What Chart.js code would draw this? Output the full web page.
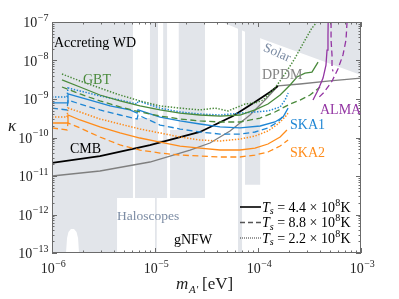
<!DOCTYPE html>
<html>
<head>
<meta charset="utf-8">
<script src="https://cdn.jsdelivr.net/npm/chart.js@4.4.1/dist/chart.umd.min.js"></script>
<style>
  html, body { margin: 0; padding: 0; background: #fff; }
  canvas { display: block; }
</style>
</head>
<body>
<canvas id="chart" width="399" height="299"></canvas>
<script>
// ================= AXES =================
const xTicks = [1e-6, 1e-5, 1e-4, 1e-3];
const yTicks = [1e-13, 1e-12, 1e-11, 1e-10, 1e-9, 1e-8, 1e-7];

// ================= EXCLUDED REGIONS (m [eV], kappa) =================
const haloMain = [[1e-6,1e-7],[3.06e-5,1e-7],[3.06e-5,2.7e-12],[4.28e-6,2.7e-12],[4.28e-6,1e-13],
  [1.83e-6,1e-13],[1.79e-6,2.45e-13],[1.73e-6,3.5e-13],[1.636e-6,4.2e-13],[1.528e-6,4.2e-13],
  [1.445e-6,3.5e-13],[1.40e-6,2.45e-13],[1.368e-6,1e-13],[1e-6,1e-13],[1e-6,1e-7]];
const haloLine = [[6.4e-5,1e-7],[7.0e-5,1e-7],[7.0e-5,1e-13],[6.4e-5,1e-13],[6.4e-5,1e-7]];
const haloBand = [[7.48e-5,1e-7],[1.05e-4,1e-7],[1.05e-4,5.9e-12],[7.48e-5,5.9e-12],[7.48e-5,1e-7]];
const haloThin = [[1.0e-5,2.7e-12],[1.04e-5,2.7e-12],[1.04e-5,1e-13],[1.0e-5,1e-13],[1.0e-5,2.7e-12]];
const solar = [[4.47e-5,1e-7],[1e-3,1e-7],[1e-3,4.2e-9],[1.1e-4,3.6e-8],[4.47e-5,1e-7]];

// gaps inside the haloscope block
const gapA = [[6.4e-6,1e-7],[8.93e-6,1e-7],[8.93e-6,3.2e-10],[6.4e-6,3.2e-10],[6.4e-6,1e-7]];
const gapB = [[6.11e-6,1e-7],[6.4e-6,1e-7],[6.4e-6,2.7e-12],[6.11e-6,2.7e-12],[6.11e-6,1e-7]];
const gapC = [[1.07e-5,1e-7],[1.2e-5,1e-7],[1.2e-5,8.6e-11],[1.07e-5,8.6e-11],[1.07e-5,1e-7]];
const gapD = [[1.31e-5,1e-7],[1.7e-5,1e-7],[1.7e-5,1.57e-10],[1.31e-5,1.57e-10],[1.31e-5,1e-7]];
const gapE = [[1.31e-5,1.6e-10],[1.40e-5,1.6e-10],[1.40e-5,2.7e-12],[1.31e-5,2.7e-12],[1.31e-5,1.6e-10]];

// ================= BOUNDS =================
const cmb = [[1e-6,2.18e-11],[2.92e-6,3.3e-11],[8.93e-6,6.38e-11],[2.73e-5,1.39e-10],[5.72e-5,3.61e-10],
  [9.35e-5,8.4e-10],[1.31e-4,1.52e-9],[1.56e-4,2.18e-9]];
const dpdm = [[1e-6,1e-11],[2.92e-6,1.35e-11],[8.93e-6,2.31e-11],[2.19e-5,4.73e-11],[3.42e-5,7.19e-11],
  [5.35e-5,1.48e-10],[8.36e-5,3.84e-10],[1.17e-4,9.4e-10],[1.56e-4,2.18e-9],[2.56e-4,2.45e-9],
  [5.0e-4,2.94e-9],[1e-3,3.5e-9]];

// ================= GBT =================
const gbtSolid = [[1.25e-6,3.12e-9],[1.87e-6,2.05e-9],[2.92e-6,1.27e-9],[4.57e-6,8.9e-10],[7.15e-6,6.6e-10],
  [1.12e-5,5.2e-10],[1.75e-5,4.3e-10],[2.73e-5,3.84e-10],[4.28e-5,3.61e-10],[6.68e-5,3.84e-10],
  [9.35e-5,5.2e-10],[1.25e-4,7.4e-10],[1.64e-4,1.27e-9],[2.05e-4,2.31e-9],[2.39e-4,3.72e-9],
  [2.86e-4,4.7e-9],[3.34e-4,5.0e-9],[3.83e-4,9.1e-9]];
const gbtDashed = [[1.25e-6,2.05e-9],[1.87e-6,1.35e-9],[2.92e-6,8.9e-10],[4.57e-6,6.2e-10],[7.15e-6,4.6e-10],
  [1.12e-5,3.61e-10],[1.75e-5,3.03e-10],[2.73e-5,2.69e-10],[4.28e-5,2.53e-10],[6.68e-5,2.53e-10],
  [1.05e-4,3.2e-10],[1.46e-4,4.6e-10],[2.05e-4,7.4e-10],[2.56e-4,9.4e-10],[3.20e-4,1.27e-9],[4.0e-4,2.05e-9]];
const gbtDotted = [[1.25e-6,4.46e-9],[1.87e-6,2.94e-9],[2.92e-6,1.93e-9],[4.57e-6,1.27e-9],[7.15e-6,8.9e-10],
  [1.12e-5,6.6e-10],[1.75e-5,5.8e-10],[2.73e-5,5.2e-10],[3.83e-5,5.8e-10],[5.12e-5,4.9e-10],
  [7.48e-5,7.4e-10],[9.35e-5,7.9e-10],[1.12e-4,9.4e-10],[1.46e-4,1.93e-9],[1.83e-4,4.46e-9],
  [2.29e-4,1.16e-8],[2.86e-4,3.4e-8],[3.34e-4,6.98e-8],[3.74e-4,1e-7]];

// ================= SKA1 =================
const ska1Solid = [[1e-6,7.9e-10],[1.40e-6,7.9e-10],[1.43e-6,1.35e-9],[1.67e-6,1.20e-9],[2.34e-6,9.4e-10],
  [3.66e-6,6.6e-10],[5.71e-6,5.2e-10],[6.7e-6,4.3e-10],[6.84e-6,5.2e-10],[1.12e-5,3.4e-10],
  [1.75e-5,2.69e-10],[2.73e-5,2.24e-10],[4.28e-5,1.88e-10],[6.68e-5,1.77e-10],[1.05e-4,1.99e-10],
  [1.46e-4,2.53e-10],[1.75e-4,3.4e-10],[1.96e-4,5.8e-10]];
const ska1Dashed = [[1e-6,5.8e-10],[1.40e-6,5.2e-10],[1.43e-6,9.4e-10],[1.87e-6,7.4e-10],[2.92e-6,5.2e-10],
  [4.57e-6,3.84e-10],[6.7e-6,3.03e-10],[6.84e-6,3.84e-10],[1.12e-5,2.11e-10],[1.75e-5,1.66e-10],
  [2.73e-5,1.39e-10],[4.28e-5,1.23e-10],[6.68e-5,1.23e-10],[9.35e-5,1.39e-10],[1.25e-4,1.77e-10],
  [1.56e-4,2.53e-10],[1.83e-4,4.07e-10]];
const ska1Dotted = [[1e-6,1.13e-9],[1.40e-6,1.13e-9],[1.43e-6,1.93e-9],[1.87e-6,1.62e-9],[2.92e-6,1.20e-9],
  [4.57e-6,9.4e-10],[6.7e-6,7.4e-10],[6.84e-6,8.9e-10],[1.12e-5,5.8e-10],[1.75e-5,4.6e-10],
  [2.73e-5,4.07e-10],[4.28e-5,3.84e-10],[6.68e-5,4.3e-10],[9.35e-5,4.6e-10],[1.25e-4,4.9e-10],
  [1.64e-4,6.2e-10],[1.83e-4,9.4e-10],[1.96e-4,1.43e-9]];

// ================= SKA2 =================
const ska2Solid = [[1e-6,2.38e-10],[1.40e-6,2.38e-10],[1.43e-6,3.84e-10],[1.87e-6,2.85e-10],[2.92e-6,1.88e-10],
  [4.57e-6,1.31e-10],[7.15e-6,9.7e-11],[1.12e-5,7.6e-11],[1.75e-5,6.0e-11],[2.73e-5,5.3e-11],
  [4.28e-5,4.73e-11],[6.68e-5,4.73e-11],[9.35e-5,5.3e-11],[1.25e-4,6.78e-11],[1.64e-4,1.03e-10],[1.91e-4,1.57e-10]];
const ska2Dashed = [[1e-6,1.77e-10],[1.40e-6,1.57e-10],[1.43e-6,2.38e-10],[1.87e-6,1.77e-10],[2.92e-6,1.03e-10],
  [4.57e-6,6.4e-11],[7.15e-6,4.73e-11],[1.12e-5,3.95e-11],[1.75e-5,3.5e-11],[2.73e-5,3.3e-11],
  [4.28e-5,3.12e-11],[6.68e-5,3.12e-11],[9.35e-5,3.5e-11],[1.25e-4,4.2e-11],[1.64e-4,6.0e-11],[1.96e-4,8.6e-11]];
const ska2Dotted = [[1e-6,3.4e-10],[1.40e-6,3.4e-10],[1.43e-6,5.8e-10],[1.87e-6,4.6e-10],[2.92e-6,3.03e-10],
  [4.57e-6,2.24e-10],[7.15e-6,1.66e-10],[1.12e-5,1.31e-10],[1.75e-5,1.03e-10],[2.73e-5,8.6e-11],
  [4.28e-5,8.1e-11],[6.68e-5,9.1e-11],[9.35e-5,1.09e-10],[1.25e-4,1.48e-10],[1.56e-4,2.24e-10],
  [1.83e-4,3.4e-10],[1.96e-4,4.3e-10]];

// ================= ALMA =================
const almaSolid = [[3.42e-4,9.4e-10],[3.83e-4,1.71e-9],[4.28e-4,3.5e-9],[4.57e-4,7.6e-9],[4.68e-4,1.87e-8],
  [4.78e-4,4.6e-8],[4.8e-4,1e-7]];
const almaDashedA = [[5.12e-4,1e-7],[5.12e-4,3.4e-8],[5.23e-4,1.39e-8],[5.23e-4,6.5e-9],[5.35e-4,5.2e-9]];
const almaDashedB = [[7.32e-4,1e-7],[7.15e-4,3.4e-8],[6.68e-4,1.39e-8],[5.97e-4,6.0e-9],[5.23e-4,2.9e-9],
  [4.38e-4,1.5e-9],[3.83e-4,1.05e-9]];

// ================= COLOURS =================
const GREY_FILL = '#e2e5ea';
const GREEN = '#4a8a3c';
const BLUE = '#1f86d4';
const ORANGE = '#ff8c1a';
const PURPLE = '#9335a3';
const SLATE = '#7b8ba3';
const DASH = [6, 3.5];
const DOT = [1.4, 1.6];

const pts = arr => arr.map(p => ({ x: p[0], y: p[1] }));

function region(data, color, order) {
    return { data: pts(data), fill: 'shape', backgroundColor: color, borderColor: 'rgba(0,0,0,0)',
             borderWidth: 0, pointRadius: 0, order: order };
}

function curve(data, color, dash, width, order) {
    return { data: pts(data), fill: false, borderColor: color, borderWidth: width,
             borderDash: dash, pointRadius: 0, tension: 0, order: order };
}

// ================= DECORATION PLUGIN =================
const SERIF = '"Liberation Serif", "DejaVu Serif", serif';

function powerLabel(ctx, exp, x, y, align) {
    const base = '10', sup = '\u2212' + exp;
    ctx.font = '14px ' + SERIF;
    const wb = ctx.measureText(base).width;
    ctx.font = '10px ' + SERIF;
    const ws = ctx.measureText(sup).width;
    let left = align === 'right' ? x - wb - ws : x - (wb + ws) / 2;
    ctx.textAlign = 'left';
    ctx.textBaseline = 'alphabetic';
    ctx.font = '14px ' + SERIF;
    ctx.fillText(base, left, y);
    ctx.font = '10px ' + SERIF;
    ctx.fillText(sup, left + wb + 0.5, y - 6.5);
}

function legendRow(ctx, x, y, value) {
    ctx.textBaseline = 'alphabetic';
    ctx.textAlign = 'left';
    ctx.font = 'italic 14px ' + SERIF;
    ctx.fillText('T', x, y);
    let cx = x + ctx.measureText('T').width;
    ctx.font = 'italic 10px ' + SERIF;
    ctx.fillText('s', cx, y + 2.5);
    cx += ctx.measureText('s').width;
    ctx.font = '14px ' + SERIF;
    const mid = ' = ' + value + ' \u00d7 10';
    ctx.fillText(mid, cx, y);
    cx += ctx.measureText(mid).width;
    ctx.font = '10px ' + SERIF;
    ctx.fillText('8', cx + 0.3, y - 6);
    cx += ctx.measureText('8').width + 0.6;
    ctx.font = '14px ' + SERIF;
    ctx.fillText('K', cx, y);
}

const decor = {
    id: 'decor',
    afterDatasetsDraw(chart) {
        const ctx = chart.ctx;
        const a = chart.chartArea;
        const xs = chart.scales.x, ys = chart.scales.y;
        ctx.save();

        // frame
        ctx.strokeStyle = '#6b6b6b';
        ctx.lineWidth = 1;
        ctx.strokeRect(a.left + 0.5, a.top + 0.5, a.right - a.left - 1, a.bottom - a.top - 1);

        // inward ticks on all sides
        ctx.beginPath();
        xTicks.forEach(d => {
            for (let k = 1; k <= 9; k++) {
                const v = d * k;
                if (v > 1e-3 * 1.0001) break;
                const px = Math.round(xs.getPixelForValue(v)) + 0.5;
                const len = k === 1 ? 5 : 2.5;
                ctx.moveTo(px, a.bottom); ctx.lineTo(px, a.bottom - len);
                ctx.moveTo(px, a.top); ctx.lineTo(px, a.top + len);
            }
        });
        yTicks.forEach(d => {
            for (let k = 1; k <= 9; k++) {
                const v = d * k;
                if (v > 1e-7 * 1.0001) break;
                const py = Math.round(ys.getPixelForValue(v)) + 0.5;
                const len = k === 1 ? 5 : 2.5;
                ctx.moveTo(a.left, py); ctx.lineTo(a.left + len, py);
                ctx.moveTo(a.right, py); ctx.lineTo(a.right - len, py);
            }
        });
        ctx.stroke();

        // tick labels
        ctx.fillStyle = '#222';
        xTicks.forEach(v => {
            powerLabel(ctx, Math.round(-Math.log10(v)), xs.getPixelForValue(v) + 1, a.bottom + 20, 'center');
        });
        yTicks.forEach(v => {
            powerLabel(ctx, Math.round(-Math.log10(v)), a.left - 4, ys.getPixelForValue(v) + 5, 'right');
        });

        // axis titles
        ctx.textAlign = 'center';
        ctx.textBaseline = 'middle';
        ctx.font = 'italic 17px ' + SERIF;
        ctx.fillText('\u03ba', 12, 127);

        ctx.textAlign = 'left';
        ctx.textBaseline = 'alphabetic';
        ctx.font = 'italic 17px ' + SERIF;
        ctx.fillText('m', 176, 289);
        ctx.font = 'italic 11px ' + SERIF;
        ctx.fillText('A\u2032', 189, 293);
        ctx.font = '17px ' + SERIF;
        ctx.fillText('[eV]', 202, 289);

        // region / curve labels
        ctx.textBaseline = 'middle';
        ctx.fillStyle = '#000';
        ctx.font = '14px ' + SERIF;
        ctx.fillText('Accreting WD', 54, 43);
        ctx.fillText('CMB', 70, 149);
        ctx.fillText('gNFW', 174, 240);
        ctx.fillStyle = GREEN;
        ctx.fillText('GBT', 83, 80);
        ctx.fillStyle = BLUE;
        ctx.fillText('SKA1', 290, 125);
        ctx.fillStyle = ORANGE;
        ctx.fillText('SKA2', 290, 153);
        ctx.fillStyle = PURPLE;
        ctx.fillText('ALMA', 320, 110);
        ctx.fillStyle = '#858585';
        ctx.fillText('DPDM', 262, 75);
        ctx.fillStyle = SLATE;
        ctx.font = '13.5px ' + SERIF;
        ctx.fillText('Haloscopes', 117, 216);
        ctx.save();
        ctx.translate(277, 53);
        ctx.rotate(24 * Math.PI / 180);
        ctx.textAlign = 'center';
        ctx.fillText('Solar', 0, 0);
        ctx.restore();

        // legend
        const rows = [['4.4', [], 1.6, '#000'], ['8.8', [5, 3], 1.6, '#555'], ['2.2', [1, 1], 1, '#333']];
        rows.forEach((r, i) => {
            const y = 207 + i * 15.5;
            ctx.beginPath();
            ctx.setLineDash(r[1]);
            ctx.lineWidth = r[2];
            ctx.strokeStyle = r[3];
            ctx.moveTo(240, y);
            ctx.lineTo(261, y);
            ctx.stroke();
            ctx.setLineDash([]);
            ctx.fillStyle = '#000';
            legendRow(ctx, 262, y + 4.5, r[0]);
        });
        ctx.restore();
    }
};

// ================= CHART =================
new Chart(document.getElementById('chart'), {
    type: 'line',
    data: {
        datasets: [
            region(haloMain, GREY_FILL, 100),
            region(haloLine, GREY_FILL, 100),
            region(haloBand, GREY_FILL, 100),
            region(haloThin, GREY_FILL, 100),
            region(solar, GREY_FILL, 100),
            region(gapA, '#ffffff', 90),
            region(gapB, '#ffffff', 90),
            region(gapC, '#ffffff', 90),
            region(gapD, '#ffffff', 90),
            region(gapE, '#ffffff', 90),
            curve(dpdm, '#7f7f7f', [], 1.3, 12),
            curve(cmb, '#000000', [], 1.8, 11),
            curve(ska2Dashed, ORANGE, DASH, 1.3, 10),
            curve(ska2Dotted, ORANGE, DOT, 1.5, 10),
            curve(ska2Solid, ORANGE, [], 1.3, 10),
            curve(ska1Dashed, BLUE, DASH, 1.3, 9),
            curve(ska1Dotted, BLUE, DOT, 1.5, 9),
            curve(ska1Solid, BLUE, [], 1.3, 9),
            curve(gbtDashed, GREEN, DASH, 1.3, 8),
            curve(gbtDotted, GREEN, DOT, 1.5, 8),
            curve(gbtSolid, GREEN, [], 1.3, 8),
            curve(almaDashedA, PURPLE, DASH, 1.3, 7),
            curve(almaDashedB, PURPLE, DASH, 1.3, 7),
            curve(almaSolid, PURPLE, [], 1.3, 7)
        ]
    },
    options: {
        responsive: false,
        animation: false,
        parsing: true,
        layout: { padding: { left: 52, right: 38, top: 22, bottom: 46 } },
        plugins: { legend: { display: false }, tooltip: { enabled: false } },
        scales: {
            x: { type: 'logarithmic', min: 1e-6, max: 1e-3, display: false },
            y: { type: 'logarithmic', min: 1e-13, max: 1e-7, display: false }
        }
    },
    plugins: [decor]
});
</script>
</body>
</html>
